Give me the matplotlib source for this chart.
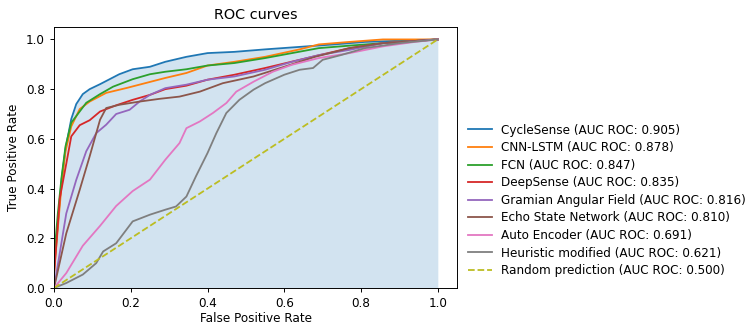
import numpy as np
import matplotlib
matplotlib.use("Agg")
import matplotlib.pyplot as plt

labels = ["CycleSense (AUC ROC: 0.905)", "CNN-LSTM (AUC ROC: 0.878)", "FCN (AUC ROC: 0.847)",
          "DeepSense (AUC ROC: 0.835)", "Gramian Angular Field (AUC ROC: 0.816)",
          "Echo State Network (AUC ROC: 0.810)", "Auto Encoder (AUC ROC: 0.691)",
          "Heuristic modified (AUC ROC: 0.621)"]
random_label = "Random prediction (AUC ROC: 0.500)"

fpr_cyclesense = [0, 0, 0.01, 0.02, 0.03, 0.04, 0.045, 0.058, 0.075, 0.093, 0.12, 0.145, 0.17, 0.205, 0.25, 0.29, 0.345, 0.40, 0.47, 0.55, 0.64, 0.73, 0.81, 1.0]
tpr_cyclesense = [0, 0.08, 0.26, 0.44, 0.56, 0.64, 0.68, 0.74, 0.78, 0.80, 0.82, 0.84, 0.86, 0.88, 0.89, 0.91, 0.93, 0.945, 0.95, 0.96, 0.97, 0.98, 0.99, 1.0]

fpr_cnnlstm = [0, 0, 0.01, 0.02, 0.03, 0.045, 0.067, 0.093, 0.136, 0.19, 0.24, 0.29, 0.345, 0.40, 0.47, 0.55, 0.64, 0.69, 0.77, 0.857, 1.0]
tpr_cnnlstm = [0, 0.06, 0.24, 0.42, 0.55, 0.65, 0.72, 0.75, 0.785, 0.805, 0.825, 0.845, 0.865, 0.895, 0.91, 0.93, 0.96, 0.98, 0.99, 1.0, 1.0]

fpr_fcn = [0, 0, 0.01, 0.02, 0.03, 0.045, 0.084, 0.12, 0.154, 0.205, 0.25, 0.29, 0.345, 0.40, 0.47, 0.55, 0.62, 0.69, 0.77, 0.90, 1.0]
tpr_fcn = [0, 0.12, 0.30, 0.45, 0.57, 0.665, 0.745, 0.78, 0.81, 0.84, 0.86, 0.87, 0.88, 0.895, 0.905, 0.925, 0.945, 0.965, 0.975, 0.99, 1.0]

fpr_deepsense = [0, 0, 0.015, 0.032, 0.045, 0.067, 0.093, 0.12, 0.162, 0.205, 0.25, 0.29, 0.345, 0.40, 0.47, 0.55, 0.64, 0.70, 0.77, 0.857, 1.0]
tpr_deepsense = [0, 0.05, 0.36, 0.50, 0.61, 0.655, 0.675, 0.71, 0.735, 0.757, 0.777, 0.80, 0.814, 0.838, 0.858, 0.885, 0.918, 0.94, 0.965, 0.985, 1.0]

fpr_gaf = [0, 0.032, 0.058, 0.084, 0.11, 0.136, 0.162, 0.197, 0.223, 0.25, 0.29, 0.345, 0.40, 0.47, 0.55, 0.62, 0.69, 0.77, 0.857, 1.0]
tpr_gaf = [0, 0.30, 0.435, 0.55, 0.623, 0.657, 0.70, 0.717, 0.75, 0.777, 0.804, 0.818, 0.838, 0.851, 0.878, 0.91, 0.937, 0.958, 0.985, 1.0]

fpr_esn = [0, 0.032, 0.067, 0.093, 0.12, 0.136, 0.17, 0.223, 0.275, 0.327, 0.38, 0.44, 0.52, 0.60, 0.68, 0.77, 0.857, 1.0]
tpr_esn = [0, 0.22, 0.395, 0.53, 0.677, 0.724, 0.737, 0.75, 0.761, 0.77, 0.79, 0.824, 0.851, 0.89, 0.93, 0.965, 0.985, 1.0]

fpr_ae = [0, 0.032, 0.075, 0.12, 0.162, 0.205, 0.25, 0.29, 0.327, 0.345, 0.38, 0.414, 0.449, 0.475, 0.52, 0.57, 0.62, 0.69, 0.77, 0.857, 0.94, 1.0]
tpr_ae = [0, 0.06, 0.17, 0.25, 0.33, 0.39, 0.436, 0.516, 0.583, 0.643, 0.67, 0.704, 0.744, 0.79, 0.83, 0.87, 0.898, 0.925, 0.945, 0.972, 0.99, 1.0]

fpr_heur = [0, 0.032, 0.075, 0.11, 0.128, 0.162, 0.205, 0.25, 0.29, 0.318, 0.345, 0.37, 0.40, 0.423, 0.449, 0.483, 0.52, 0.55, 0.60, 0.64, 0.675, 0.70, 0.75, 0.81, 0.90, 1.0]
tpr_heur = [0, 0.02, 0.054, 0.10, 0.147, 0.18, 0.268, 0.295, 0.315, 0.328, 0.368, 0.45, 0.543, 0.623, 0.704, 0.757, 0.798, 0.824, 0.858, 0.878, 0.885, 0.918, 0.938, 0.965, 0.985, 1.0]

fprs = [fpr_cyclesense, fpr_cnnlstm, fpr_fcn, fpr_deepsense, fpr_gaf, fpr_esn, fpr_ae, fpr_heur]
tprs = [tpr_cyclesense, tpr_cnnlstm, tpr_fcn, tpr_deepsense, tpr_gaf, tpr_esn, tpr_ae, tpr_heur]
colors = ["tab:blue", "tab:orange", "tab:green", "tab:red", "tab:purple", "tab:brown", "tab:pink", "tab:gray"]

s = 0.865
plt.rcParams.update({
    "font.size": 10 * s,
    "axes.titlesize": 12 * s,
    "axes.linewidth": 0.8 * s,
    "xtick.major.size": 3.5 * s,
    "ytick.major.size": 3.5 * s,
    "xtick.major.width": 0.8 * s,
    "ytick.major.width": 0.8 * s,
    "lines.linewidth": 1.5 * s,
})

fig = plt.figure(figsize=(7.45, 3.24), dpi=100)
ax = fig.add_axes([54/745, 1-288/324, (457-54)/745, (288-27)/324])

ax.fill_between(fpr_cyclesense, 0, tpr_cyclesense, color="tab:blue", alpha=0.2, linewidth=0)
for f, t, c, l in zip(fprs, tprs, colors, labels):
    ax.plot(f, t, color=c, label=l)
ax.plot([0, 1], [0, 1], linestyle="--", color="tab:olive", label=random_label)

ax.set_xlim(0, 1.05)
ax.set_ylim(0, 1.05)
ax.set_xlabel("False Positive Rate", labelpad=1.5)
ax.set_ylabel("True Positive Rate")
ax.set_title("ROC curves")
ax.legend(loc="lower left", bbox_to_anchor=(1.0, 0.0), frameon=False, labelspacing=0.38)

fig.savefig("out.png", dpi=100)
